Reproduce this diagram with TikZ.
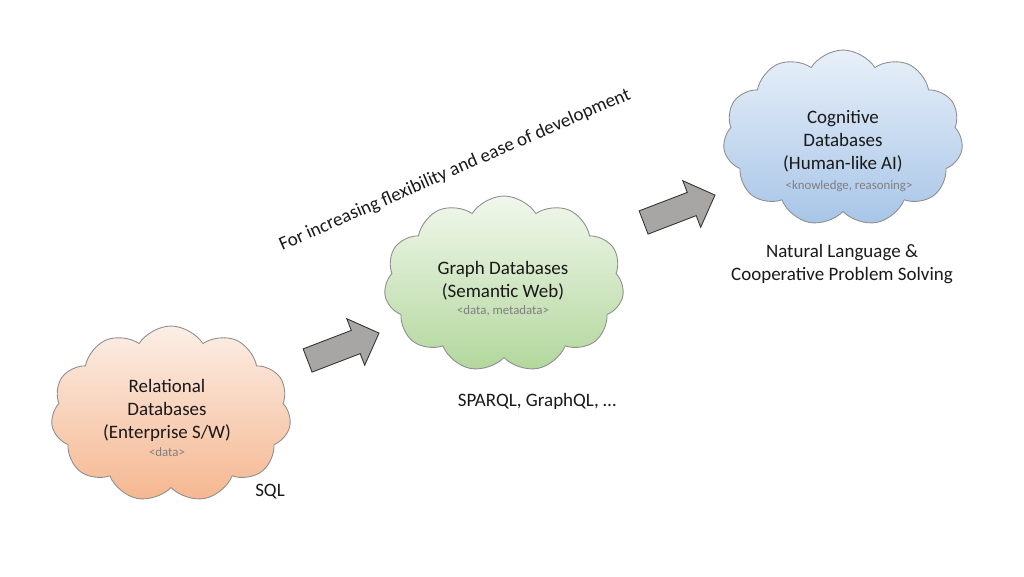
\documentclass[tikz,border=0pt]{standalone}
\usepackage{fontspec}
\setmainfont{Carlito}
\usetikzlibrary{shapes.symbols,shapes.arrows,calc}

\definecolor{relTop}{HTML}{FCEEE6}
\definecolor{relBot}{HTML}{F5B790}
\definecolor{grTop}{HTML}{F1F7EC}
\definecolor{grBot}{HTML}{B2D79C}
\definecolor{cogTop}{HTML}{E8F0F9}
\definecolor{cogBot}{HTML}{A7C5E7}
\definecolor{arrowGray}{HTML}{A8A5A5}
\definecolor{edgeGray}{HTML}{8E8E8E}
\definecolor{noteGray}{HTML}{7F7F7F}

\tikzset{
  dbcloud/.style={cloud, cloud puffs=11, cloud puff arc=115, aspect=1.36,
    draw=edgeGray, line width=0.5pt, inner sep=0pt,
    minimum width=4.8cm, minimum height=3.52cm},
  maintext/.style={font=\fontsize{10.8}{13.1}\selectfont, text=black!90, align=center, inner sep=0pt},
  notetext/.style={font=\fontsize{7.3}{8.5}\selectfont, text=noteGray, inner sep=0pt},
  stepArrow/.style={single arrow, draw=black!80, fill=arrowGray, line width=0.5pt,
    inner xsep=0pt, inner ysep=0.24cm, single arrow head extend=0.25cm,
    minimum height=1.53cm, rotate=21}
}

\begin{document}
\begin{tikzpicture}[x=0.02cm, y=-0.02cm]
  \useasboundingbox (0,0) rectangle (1024,576);

  % Clouds
  \node[dbcloud, top color=relTop, bottom color=relBot] (rel) at (171,414) {};
  \node[dbcloud, top color=grTop, bottom color=grBot] (graph) at (504,284) {};
  \node[dbcloud, top color=cogTop, bottom color=cogBot] (cog) at (843,138) {};

  % Relational databases
  \node[maintext] (relT) at (167,410) {Relational\\Databases\\(Enterprise S/W)};
  \node[notetext] (relN) at (167,452) {<data>};

  % Graph databases
  \node[maintext] (graphT) at (503,281) {Graph Databases\\(Semantic Web)};
  \node[notetext] (graphN) at (503,311) {<data, metadata>};

  % Cognitive databases
  \node[maintext] (cogT) at (843,141) {Cognitive\\Databases\\(Human-like AI)};
  \node[notetext] (cogN) at (849,186) {<knowledge, reasoning>};

  % Block arrows between the clouds
  \node[stepArrow] (step1) at ($(rel)!0.5!(graph)$) {};
  \node[stepArrow] (step2) at ($(graph)!0.5!(cog)$) {};

  % Query languages
  \node[maintext] (sql) at (270,492) {SQL};
  \node[maintext] (sparql) at (537,401) {SPARQL, GraphQL, …};
  \node[maintext] (nlp) at (842,264) {Natural Language \&\\Cooperative Problem Solving};

  % Slanted caption
  \node[maintext, rotate=23.5] (trend) at (455,170) {For increasing flexibility and ease of development};
\end{tikzpicture}
\end{document}
